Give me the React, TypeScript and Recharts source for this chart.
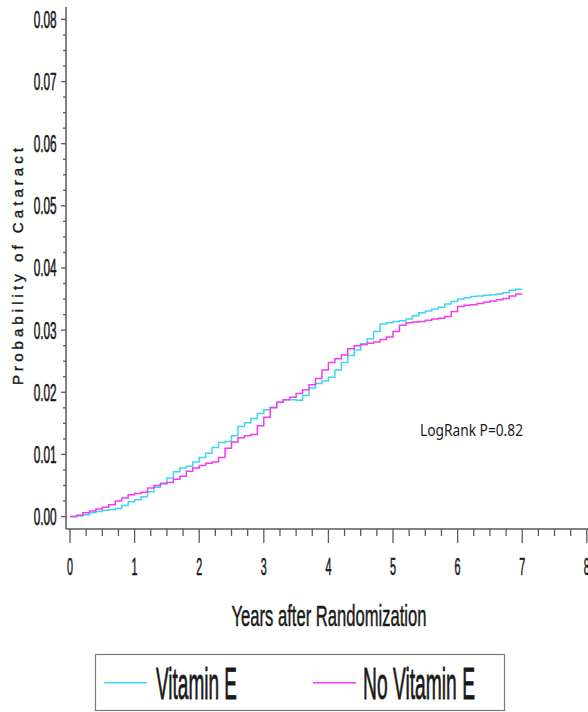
import React from 'react';
import { LineChart, Line, XAxis, YAxis } from 'recharts';

const years = [
  0, 0.1, 0.2, 0.3, 0.4, 0.5, 0.6, 0.7, 0.8, 0.9,
  1.0, 1.1, 1.2, 1.3, 1.4, 1.5, 1.6, 1.7, 1.8, 1.9,
  2.0, 2.1, 2.2, 2.3, 2.4, 2.5, 2.6, 2.7, 2.8, 2.9,
  3.0, 3.1, 3.2, 3.3, 3.4, 3.5, 3.6, 3.7, 3.8, 3.9,
  4.0, 4.1, 4.2, 4.3, 4.4, 4.5, 4.6, 4.7, 4.8, 4.9,
  5.0, 5.1, 5.2, 5.3, 5.4, 5.5, 5.6, 5.7, 5.8, 5.9,
  6.0, 6.1, 6.2, 6.3, 6.4, 6.5, 6.6, 6.7, 6.8, 6.9,
  7.0,
];

const vitaminE = [
  0, 0.0001, 0.0003, 0.0006, 0.0008, 0.0010, 0.0011, 0.0013, 0.0018, 0.0024,
  0.0027, 0.0032, 0.0040, 0.0047, 0.0054, 0.0062, 0.0072, 0.0078, 0.0081, 0.0088,
  0.0095, 0.0102, 0.0111, 0.0119, 0.0121, 0.0130, 0.0145, 0.0151, 0.0158, 0.0166,
  0.0172, 0.0176, 0.0184, 0.0188, 0.0188, 0.0187, 0.0195, 0.0207, 0.0214, 0.0218,
  0.0224, 0.0236, 0.0248, 0.0259, 0.0268, 0.0278, 0.0286, 0.0298, 0.0310, 0.0312,
  0.0314, 0.0315, 0.0318, 0.0323, 0.0328, 0.0331, 0.0334, 0.0337, 0.0342, 0.0346,
  0.0350, 0.0352, 0.0354, 0.0355, 0.0356, 0.0357, 0.0358, 0.0360, 0.0364, 0.0366,
  0.0366,
];

const noVitaminE = [
  0, 0.0002, 0.0006, 0.0009, 0.0012, 0.0015, 0.0019, 0.0025, 0.0030, 0.0035,
  0.0037, 0.0039, 0.0046, 0.0050, 0.0053, 0.0055, 0.0060, 0.0065, 0.0073, 0.0078,
  0.0082, 0.0086, 0.0088, 0.0095, 0.0110, 0.0120, 0.0127, 0.0130, 0.0132, 0.0146,
  0.0160, 0.0175, 0.0184, 0.0188, 0.0192, 0.0198, 0.0204, 0.0212, 0.0222, 0.0236,
  0.0248, 0.0254, 0.0260, 0.0270, 0.0275, 0.0277, 0.0279, 0.0281, 0.0285, 0.0289,
  0.0298, 0.0308, 0.0312, 0.0313, 0.0314, 0.0316, 0.0318, 0.0319, 0.0322, 0.0330,
  0.0338, 0.0340, 0.0341, 0.0343, 0.0345, 0.0347, 0.0349, 0.0351, 0.0355, 0.0358,
  0.0358,
];

const xMajorTicks = [0, 1, 2, 3, 4, 5, 6, 7, 8];
const yMajorTicks = [0, 0.01, 0.02, 0.03, 0.04, 0.05, 0.06, 0.07, 0.08];
const seriesNames = ['Vitamin E', 'No Vitamin E'];
const xTitle = 'Years after Randomization';
const yTitle = 'Probability of Cataract';
const annotation = 'LogRank P=0.82';

const CYAN = '#3fd6f6';
const MAGENTA = '#f23cf0';
const AXIS = '#5a5a5a';
const TEXT = '#1a1a1a';
const FONT = '"Liberation Sans", Arial, sans-serif';

const data = years.map((t, i) => ({ t, ve: vitaminE[i], nve: noVitaminE[i] }));

// minor ticks every quarter of a major step
const xTicks: number[] = [];
xMajorTicks.forEach((v) => {
  [0, 0.25, 0.5, 0.75].forEach((f) => xTicks.push(v + f));
});
const yTicks: number[] = [];
yMajorTicks.forEach((v, i) => {
  if (i < yMajorTicks.length - 1) {
    [0, 0.0025, 0.005, 0.0075].forEach((f) => yTicks.push(Number((v + f).toFixed(5))));
  } else {
    yTicks.push(v);
  }
});

// Condensed text: scale horizontally, then pin exact width with textLength
const Narrow = (props: {
  x: number;
  y: number;
  size: number;
  sx: number;
  width: number;
  anchor?: 'start' | 'middle' | 'end';
  weight?: number;
  children: string;
}) => {
  const { x, y, size, sx, width, anchor = 'start', weight = 0.35, children } = props;
  return (
    <text
      transform={`translate(${x},${y}) scale(${sx},1)`}
      x={0}
      y={0}
      textAnchor={anchor}
      fontSize={size}
      fontFamily={FONT}
      fill={TEXT}
      stroke={TEXT}
      strokeWidth={weight}
      textLength={width / sx}
      lengthAdjust="spacingAndGlyphs"
    >
      {children}
    </text>
  );
};

const XTick = (props: any) => {
  const { x, y, payload } = props;
  const v = payload.value;
  const major = Math.abs(v - Math.round(v)) < 1e-6;
  return (
    <g>
      <line x1={x} x2={x} y1={y} y2={y + (major ? 14 : 7)} stroke={AXIS} strokeWidth={1.3} />
      {major && (
        <Narrow x={x} y={y + 46} size={23} sx={0.47} width={6} anchor="middle" weight={0.6}>
          {String(Math.round(v))}
        </Narrow>
      )}
    </g>
  );
};

const YTick = (props: any) => {
  const { x, y, payload } = props;
  const v = payload.value;
  const major = Math.abs(v * 100 - Math.round(v * 100)) < 1e-6;
  return (
    <g>
      <line x1={x - (major ? 5 : 3)} x2={x} y1={y} y2={y} stroke={AXIS} strokeWidth={1.3} />
      {major && (
        <Narrow x={x - 9.3} y={y + 8.4} size={23} sx={0.51} width={23} anchor="end" weight={0.6}>
          {v.toFixed(2)}
        </Narrow>
      )}
    </g>
  );
};

const XTitle = () => (
  <Narrow x={329} y={626} size={29} sx={0.57} width={195} anchor="middle" weight={0.5}>
    {xTitle}
  </Narrow>
);

const YTitle = () => (
  <text
    x={23}
    y={266.5}
    transform="rotate(-90 23 266.5)"
    textAnchor="middle"
    fontSize={15}
    fontFamily={FONT}
    fill={TEXT}
    stroke={TEXT}
    strokeWidth={0.4}
    textLength={237}
    lengthAdjust="spacing"
  >
    {yTitle}
  </text>
);

export default function App() {
  return (
    <div style={{ position: 'absolute', left: 0, top: 0, width: 588, height: 712, overflow: 'hidden', background: '#fff' }}>
      <LineChart width={640} height={712} data={data} margin={{ top: 7, right: 33.8, bottom: 123, left: 0 }}>
        <XAxis
          dataKey="t"
          type="number"
          domain={[-0.062, 8.3]}
          allowDataOverflow
          ticks={xTicks}
          interval={0}
          tickSize={0}
          tickMargin={0}
          tickLine={false}
          tick={<XTick />}
          axisLine={{ stroke: AXIS, strokeWidth: 1.5 }}
          height={60}
          label={XTitle}
        />
        <XAxis
          xAxisId="top"
          dataKey="t"
          type="number"
          orientation="top"
          domain={[-0.062, 8.3]}
          allowDataOverflow
          height={0}
          tick={false}
          tickLine={false}
          axisLine={{ stroke: AXIS, strokeWidth: 1.5 }}
        />
        <YAxis
          type="number"
          domain={[-0.002, 0.082]}
          allowDataOverflow
          ticks={yTicks}
          interval={0}
          tickSize={0}
          tickMargin={0}
          tickLine={false}
          tick={<YTick />}
          axisLine={{ stroke: AXIS, strokeWidth: 1.5 }}
          width={66}
          label={YTitle}
        />
        <Line
          dataKey="ve"
          name={seriesNames[0]}
          type="stepAfter"
          stroke={CYAN}
          strokeWidth={1.5}
          dot={false}
          isAnimationActive={false}
        />
        <Line
          dataKey="nve"
          name={seriesNames[1]}
          type="stepAfter"
          stroke={MAGENTA}
          strokeWidth={1.5}
          dot={false}
          isAnimationActive={false}
        />
      </LineChart>
      <svg
        width={588}
        height={712}
        style={{ position: 'absolute', left: 0, top: 0, pointerEvents: 'none' }}
      >
        <text
          x={420}
          y={435.7}
          fontSize={16}
          fontFamily='"Noto Sans", "Open Sans", sans-serif'
          fill={TEXT}
          textLength={103}
          lengthAdjust="spacingAndGlyphs"
        >
          {annotation}
        </text>
        <rect x={95.5} y={654.5} width={409} height={56} fill="none" stroke="#7a7a7a" strokeWidth={1.2} />
        <line x1={104} x2={147} y1={682.7} y2={682.7} stroke={CYAN} strokeWidth={1.5} />
        <Narrow x={156} y={699} size={44} sx={0.43} width={81} weight={0.8}>
          {seriesNames[0]}
        </Narrow>
        <line x1={313} x2={356} y1={682.7} y2={682.7} stroke={MAGENTA} strokeWidth={1.5} />
        <Narrow x={363} y={699} size={44} sx={0.436} width={112} weight={0.8}>
          {seriesNames[1]}
        </Narrow>
      </svg>
    </div>
  );
}
